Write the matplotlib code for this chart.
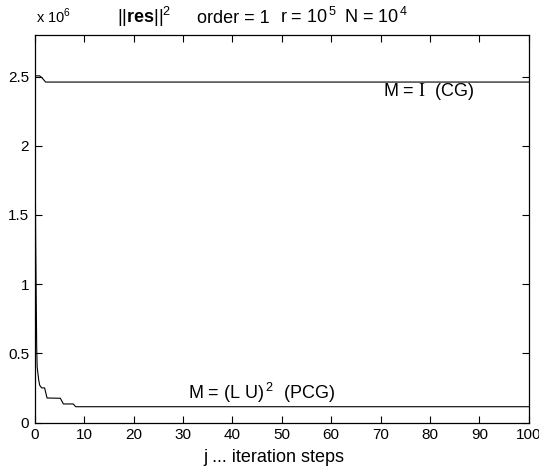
import matplotlib
matplotlib.use("Agg")
import matplotlib.pyplot as plt

plt.rcParams['font.family'] = ['Liberation Sans', 'DejaVu Sans']
plt.rcParams['mathtext.fontset'] = 'custom'
plt.rcParams['mathtext.rm'] = 'Liberation Sans'
plt.rcParams['mathtext.bf'] = 'Liberation Sans:bold'
plt.rcParams['mathtext.sf'] = 'Liberation Serif'

# data (values in units of 1e6)
cg_x = [0, 1, 1.5, 2.2, 100]
cg_y = [2.505, 2.505, 2.49, 2.46, 2.46]

pcg_x = [0, 0.2, 0.4, 0.5, 0.8, 1.0, 1.4, 2.0, 2.5, 5.2, 5.8, 7.8, 8.3, 100]
pcg_y = [2.505, 1.3, 0.55, 0.40, 0.31, 0.27, 0.25, 0.25, 0.177, 0.175, 0.134, 0.134, 0.114, 0.114]

xticks = [0, 10, 20, 30, 40, 50, 60, 70, 80, 90, 100]
yticks = [0, 0.5, 1, 1.5, 2, 2.5]
ytick_labels = ['0', '0.5', '1', '1.5', '2', '2.5']

W, H = 539, 470
fig = plt.figure(figsize=(W / 100, H / 100), dpi=100)
ax = fig.add_axes([34.7 / W, 1 - 422.5 / H, (528.7 - 34.7) / W, (422.5 - 35) / H])

ax.plot(cg_x, cg_y, color='black', lw=0.8)
ax.plot(pcg_x, pcg_y, color='black', lw=0.8)

ax.set_xlim(0, 100)
ax.set_ylim(0, 2.8)
ax.set_xticks(xticks)
ax.set_yticks(yticks)
ax.set_yticklabels(ytick_labels)
ax.tick_params(direction='in', top=True, right=True, length=5, width=0.8,
               labelsize=11, pad=4)
for s in ax.spines.values():
    s.set_linewidth(0.9)


def ftext(px, py, s, size=13, ha='left', va='baseline', **kw):
    fig.text(px / W, 1 - py / H, s, fontsize=size, ha=ha, va=va, **kw)


ftext(383, 92, r'M = $\mathsf{I}$  (CG)', va='center')
ftext(188, 393, r'M = (L U)$^{\,2}$  (PCG)', va='center')

ftext(36, 23, r'x 10$^{6}$', size=10.5)
ftext(117, 23, r'$||\mathbf{res}||^2$')
ftext(197, 23, 'order = 1')
ftext(280, 23, r'r = 10$^{\,5}$')
ftext(344, 23, r'N = 10$^{\,4}$')
ftext(274, 462, 'j ... iteration steps', ha='center')

fig.savefig('out.png', dpi=100)
